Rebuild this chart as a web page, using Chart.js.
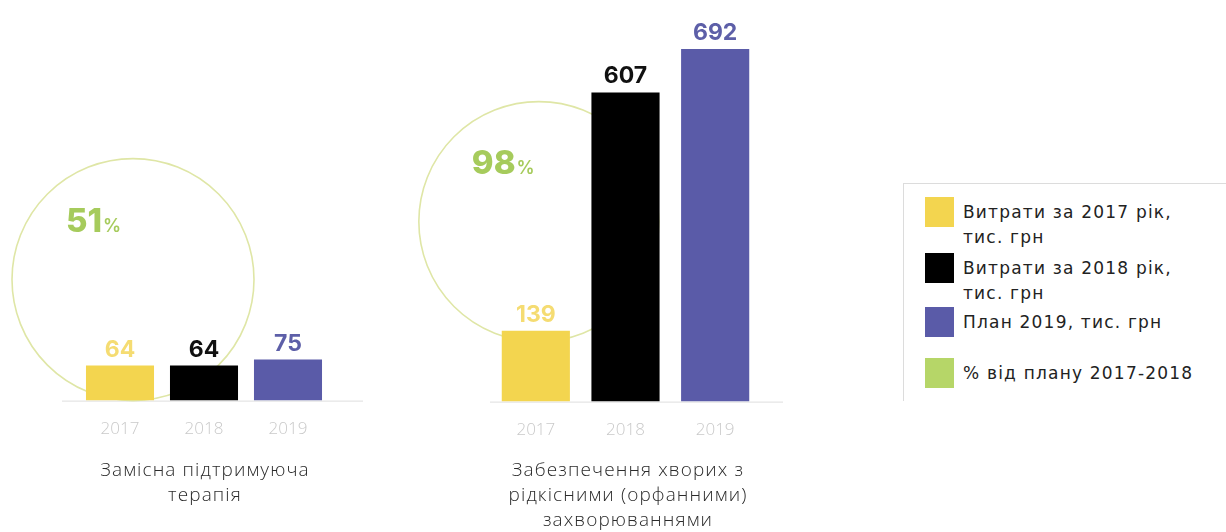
<!DOCTYPE html>
<html>
<head>
<meta charset="utf-8">
<script src="https://cdn.jsdelivr.net/npm/chart.js@4.4.1/dist/chart.umd.min.js"></script>
<style>
  body { margin: 0; background: #fff; width: 1226px; height: 532px; overflow: hidden; position: relative; font-family: "Open Sans", "Noto Sans", sans-serif; }
  .box { position: absolute; }
  .caption { position: absolute; text-align: center; font-weight: 300; font-size: 19px; letter-spacing: 1.1px; line-height: 25px; color: #2b2b2b; }
  #legend { position: absolute; left: 903px; top: 183px; width: 330px; height: 217px; border-left: 1px solid #dcdcdc; border-top: 1px solid #dcdcdc; }
  .item { position: absolute; left: 21px; display: flex; }
  .swatch { width: 29px; height: 30px; flex: none; }
  .label { margin-left: 9px; font-size: 17px; letter-spacing: 1.2px; line-height: 25px; color: #222; margin-top: 3px; font-family: "DejaVu Sans", sans-serif; }
</style>
</head>
<body>
<div class="box" style="left:0;top:0;width:420px;height:460px"><canvas id="therapy"></canvas></div>
<div class="box" style="left:400px;top:0;width:440px;height:460px"><canvas id="orphan"></canvas></div>
<div class="caption" style="left:55px;top:457px;width:300px">Замісна підтримуюча<br>терапія</div>
<div class="caption" style="left:478px;top:457px;width:300px">Забезпечення хворих з<br>рідкісними (орфанними)<br>захворюваннями</div>
<div id="legend"></div>
<script>
const years = ['2017', '2018', '2019'];
const therapyValues = [64, 64, 75];
const orphanValues = [139, 607, 692];
const planShare = [51, 98];

const barColors = ['#f3d54f', '#000000', '#5a5ba8'];
const valueColors = ['#f5dc72', '#111111', '#5d5fa8'];
const shareColor = '#a6cb5c';

const legendLabels = [
  ['Витрати за 2017 рік,', 'тис. грн'],
  ['Витрати за 2018 рік,', 'тис. грн'],
  ['План 2019, тис. грн'],
  ['% від плану 2017-2018']
];
const legendColors = ['#f3d54f', '#000000', '#5a5ba8', '#b6d668'];
const legendTops = [13, 69, 123, 174];

// legend box on the right
const legendEl = document.getElementById('legend');
legendLabels.forEach((lines, i) => {
  const item = document.createElement('div');
  item.className = 'item';
  item.style.top = legendTops[i] + 'px';
  item.innerHTML = '<div class="swatch" style="background:' + legendColors[i] + '"></div>' +
    '<div class="label">' + lines.join('<br>') + '</div>';
  legendEl.appendChild(item);
});

// thin baseline, a bit wider than the bars
const baseLine = {
  id: 'baseLine',
  beforeDatasetsDraw(chart, args, opts) {
    const ctx = chart.ctx;
    const y = chart.scales.y.getPixelForValue(0);
    ctx.save();
    ctx.strokeStyle = '#dedede';
    ctx.lineWidth = 1;
    ctx.beginPath();
    ctx.moveTo(chart.chartArea.left - opts.left, y + 0.5);
    ctx.lineTo(chart.chartArea.right + opts.right, y + 0.5);
    ctx.stroke();
    ctx.restore();
  }
};

// ring with the share of plan, sits behind the bars
const shareRing = {
  id: 'shareRing',
  beforeDatasetsDraw(chart, args, opts) {
    const ctx = chart.ctx;
    const first = chart.getDatasetMeta(0).data[0];
    const cx = first.x + opts.dx;
    const cy = chart.scales.y.getPixelForValue(0) - opts.lift - opts.r;
    ctx.save();
    ctx.strokeStyle = '#dfe6a6';
    ctx.lineWidth = 1.6;
    ctx.beginPath();
    ctx.arc(cx, cy, opts.r, 0, Math.PI * 2);
    ctx.stroke();

    const num = String(opts.value);
    ctx.fillStyle = shareColor;
    ctx.textBaseline = 'alphabetic';
    ctx.font = '800 33px Inter, sans-serif';
    const x0 = cx - 67;
    const base = cy - 48;
    ctx.fillText(num, x0, base);
    const w = ctx.measureText(num).width;
    ctx.font = '600 18px Inter, sans-serif';
    ctx.fillText('%', x0 + w + 1, base);
    ctx.restore();
  }
};

// value above each bar
const valueLabels = {
  id: 'valueLabels',
  afterDatasetsDraw(chart) {
    const ctx = chart.ctx;
    const values = chart.data.datasets[0].data;
    ctx.save();
    ctx.font = '700 23px Inter, sans-serif';
    ctx.textAlign = 'center';
    ctx.textBaseline = 'alphabetic';
    chart.getDatasetMeta(0).data.forEach((bar, i) => {
      ctx.fillStyle = valueColors[i];
      ctx.fillText(values[i], bar.x, bar.y - 9);
    });
    ctx.restore();
  }
};

function makeChart(id, values, yMax, barPct, pad, ring, line) {
  return new Chart(document.getElementById(id), {
    type: 'bar',
    data: {
      labels: years,
      datasets: [{
        data: values,
        backgroundColor: barColors,
        borderWidth: 0,
        barPercentage: barPct,
        categoryPercentage: 1
      }]
    },
    options: {
      responsive: true,
      maintainAspectRatio: false,
      animation: false,
      layout: { padding: pad },
      plugins: {
        legend: { display: false },
        tooltip: { enabled: false },
        shareRing: ring,
        baseLine: line
      },
      scales: {
        x: {
          grid: { display: false, drawTicks: false },
          border: { display: false },
          ticks: {
            padding: 18,
            color: '#c9c9c9',
            font: { size: 17, family: 'Open Sans', weight: 300 }
          }
        },
        y: { display: false, min: 0, max: yMax }
      }
    },
    plugins: [baseLine, shareRing, valueLabels]
  });
}

makeChart('therapy', therapyValues, 650, 0.81,
  { left: 78, right: 90, top: 45, bottom: 3 },
  { dx: 13, r: 121, lift: 0, value: planShare[0] },
  { left: 16, right: 33 });

makeChart('orphan', orphanValues, 700, 0.76,
  { left: 91, right: 80, top: 45, bottom: 2 },
  { dx: 3, r: 120, lift: 60, value: planShare[1] },
  { left: 1, right: 23 });
</script>
</body>
</html>
